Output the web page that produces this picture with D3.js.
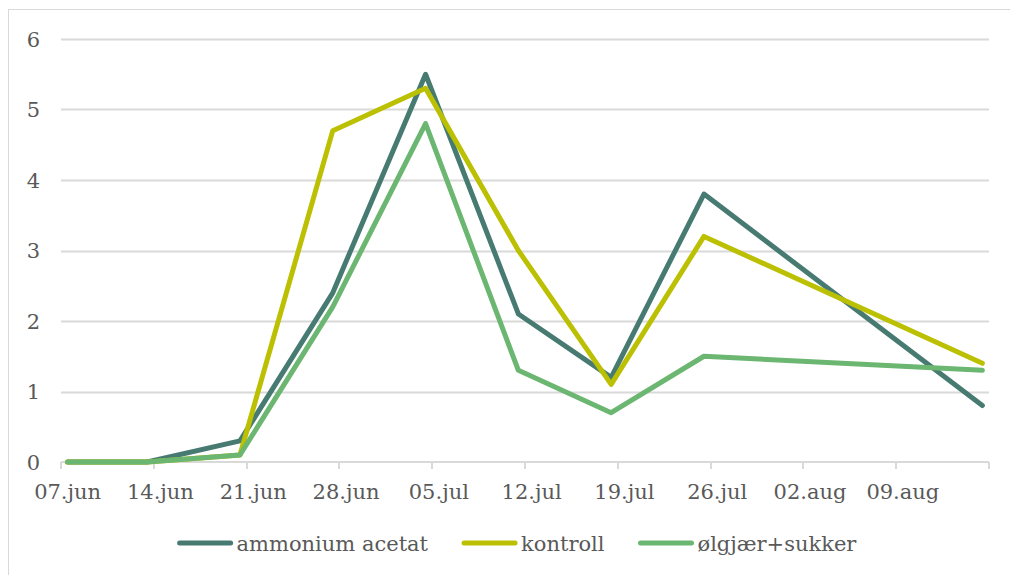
<!DOCTYPE html>
<html>
<head>
<meta charset="utf-8">
<script src="https://cdn.jsdelivr.net/npm/d3@7"></script>
<style>
  html, body { margin: 0; padding: 0; background: #fff; }
  svg { display: block; font-family: "DejaVu Serif", Georgia, serif; }
</style>
</head>
<body>
<div id="chart"></div>
<script>
// --------------- Data --------------- //

const dates = ["2021-06-07", "2021-06-13", "2021-06-20", "2021-06-27", "2021-07-04",
               "2021-07-11", "2021-07-18", "2021-07-25", "2021-08-15"];
const seriesNames = ["ammonium acetat", "kontroll", "ølgjær+sukker"];
const ammonium = [0, 0, 0.3, 2.4, 5.5, 2.1, 1.2, 3.8, 0.8];
const kontroll = [0, 0, 0.1, 4.7, 5.3, 3.0, 1.1, 3.2, 1.4];
const olgjaer  = [0, 0, 0.1, 2.2, 4.8, 1.3, 0.7, 1.5, 1.3];
const yTicks = [0, 1, 2, 3, 4, 5, 6];
const axisStart = "2021-06-07", axisEnd = "2021-08-16";

const colors = ["#477b72", "#bbc102", "#6bb671"];

// --------------- Basic Setup --------------- //

const width = 1010, height = 575;
const margin = {top: 39, right: 21, bottom: 113, left: 61};
const fontSize = 21;

const svg = d3.select("#chart")
    .append("svg")
    .attr("width", width)
    .attr("height", height);

// outer chart border
svg.append("rect")
    .attr("x", 8.5).attr("y", 9.5)
    .attr("width", width + 10).attr("height", height + 10)
    .attr("fill", "none")
    .attr("stroke", "#d9d9d9");

const nb = d3.timeFormatLocale({
    dateTime: "%A %e. %B %Y kl. %X", date: "%d.%m.%Y", time: "%H:%M:%S",
    periods: ["AM", "PM"],
    days: ["søndag", "mandag", "tirsdag", "onsdag", "torsdag", "fredag", "lørdag"],
    shortDays: ["søn", "man", "tir", "ons", "tor", "fre", "lør"],
    months: ["januar", "februar", "mars", "april", "mai", "juni", "juli", "august",
             "september", "oktober", "november", "desember"],
    shortMonths: ["jan", "feb", "mar", "apr", "mai", "jun", "jul", "aug", "sep", "okt", "nov", "des"]
});
const fmt = nb.utcFormat("%d.%b");
const parse = d3.utcParse("%Y-%m-%d");

const x = d3.scaleUtc()
    .domain([parse(axisStart), parse(axisEnd)])
    .range([margin.left, width - margin.right]);

const y = d3.scaleLinear()
    .domain([0, 6])
    .range([height - margin.bottom, margin.top]);

// each date sits in the middle of its day
const mid = d => d3.utcHour.offset(d, 12);

// --------------- Grid & Axes --------------- //

svg.append("g")
    .selectAll("line")
    .data(yTicks.filter(d => d > 0))
    .join("line")
    .attr("x1", margin.left).attr("x2", width - margin.right)
    .attr("y1", d => Math.round(y(d)) + 0.5).attr("y2", d => Math.round(y(d)) + 0.5)
    .attr("stroke", "#d9d9d9")
    .attr("stroke-width", 2);

svg.append("g")
    .selectAll("text")
    .data(yTicks)
    .join("text")
    .attr("x", 40)
    .attr("y", d => y(d))
    .attr("dy", "0.36em")
    .attr("text-anchor", "end")
    .attr("fill", "#595959")
    .attr("font-size", fontSize)
    .text(d => d);

// weekly ticks on day boundaries
const weekTicks = d3.utcDay.range(parse(axisStart), d3.utcDay.offset(parse(axisEnd), 1), 7);

const xAxis = svg.append("g");
xAxis.append("line")
    .attr("x1", margin.left).attr("x2", width - margin.right)
    .attr("y1", y(0)).attr("y2", y(0))
    .attr("stroke", "#d9d9d9")
    .attr("stroke-width", 2);
xAxis.selectAll(".tick")
    .data(weekTicks)
    .join("line")
    .attr("class", "tick")
    .attr("x1", d => Math.round(x(d))).attr("x2", d => Math.round(x(d)))
    .attr("y1", y(0)).attr("y2", y(0) + 7)
    .attr("stroke", "#d9d9d9")
    .attr("stroke-width", 2);
xAxis.selectAll("text")
    .data(weekTicks.slice(0, -1))
    .join("text")
    .attr("x", d => x(mid(d)))
    .attr("y", 499)
    .attr("text-anchor", "middle")
    .attr("fill", "#595959")
    .attr("font-size", fontSize)
    .text(d => fmt(d));

// --------------- Lines --------------- //

const series = [ammonium, kontroll, olgjaer].map((vals, i) => ({
    name: seriesNames[i],
    color: colors[i],
    values: vals.map((v, j) => ({date: parse(dates[j]), value: v}))
}));

const line = d3.line()
    .x(d => x(mid(d.date)))
    .y(d => y(d.value));

svg.append("g")
    .selectAll("path")
    .data(series)
    .join("path")
    .attr("d", d => line(d.values))
    .attr("fill", "none")
    .attr("stroke", d => d.color)
    .attr("stroke-width", 5)
    .attr("stroke-linejoin", "round")
    .attr("stroke-linecap", "round");

// --------------- Legend --------------- //

const legend = svg.append("g");
const items = legend.selectAll("g")
    .data(series)
    .join("g");
items.append("line")
    .attr("x1", 2).attr("x2", 53)
    .attr("y1", 543).attr("y2", 543)
    .attr("stroke", d => d.color)
    .attr("stroke-width", 5)
    .attr("stroke-linecap", "round");
items.append("text")
    .attr("x", 59)
    .attr("y", 551)
    .attr("fill", "#595959")
    .attr("font-size", fontSize)
    .text(d => d.name);

// lay out legend entries side by side, centred
const widths = [];
items.each(function () {
    widths.push(59 + d3.select(this).select("text").node().getComputedTextLength());
});
const gap = 34;
const total = d3.sum(widths) + gap * (widths.length - 1);
let offset = 517 - total / 2;
items.attr("transform", (d, i) => {
    const t = `translate(${offset},0)`;
    offset += widths[i] + gap;
    return t;
});
</script>
</body>
</html>
